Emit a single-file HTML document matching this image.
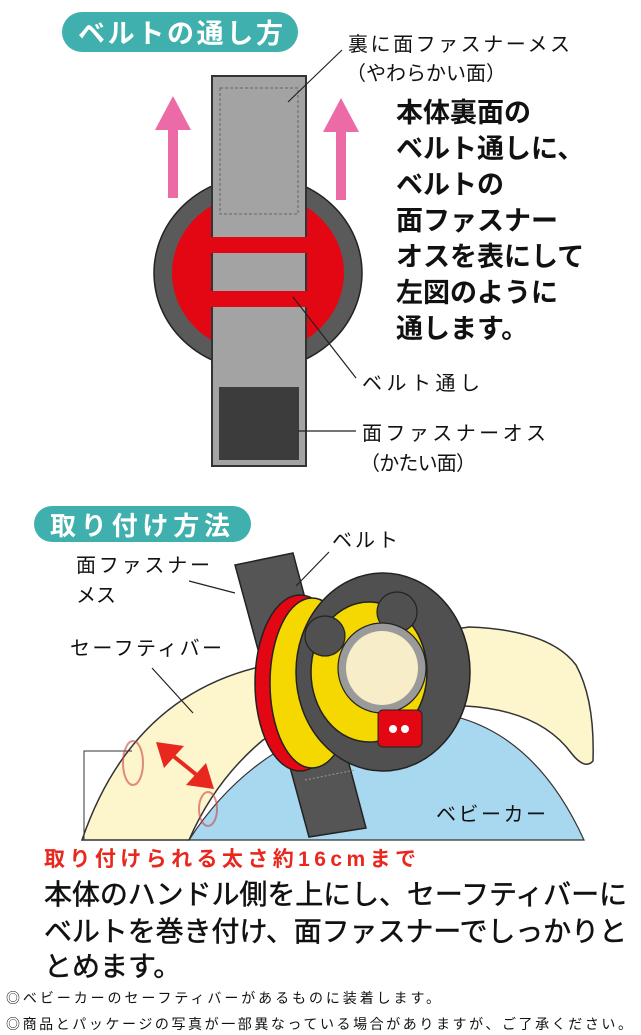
<!DOCTYPE html>
<html><head><meta charset="utf-8">
<style>
html,body{margin:0;padding:0;background:#fff;}
svg{display:block;}
text{font-family:"Liberation Sans","Noto Sans CJK JP",sans-serif;}
</style></head>
<body>
<svg width="641" height="1035" viewBox="0 0 641 1035" xmlns="http://www.w3.org/2000/svg">
<!-- TOP SECTION -->
<rect x="62" y="12" width="236" height="40" rx="20" fill="#3fb0ad"/>
<text x="78" y="43" font-size="27" font-weight="bold" fill="#fff" textLength="205">ベルトの通し方</text>

<ellipse cx="258" cy="273" rx="104" ry="97" fill="#5a5a5a" stroke="#222" stroke-width="1.5"/>
<ellipse cx="258" cy="273" rx="86" ry="80" fill="#e30613"/>
<rect x="168" y="128" width="10" height="70" fill="#ec6aa6"/>
<polygon points="155,130 191,130 173,96" fill="#ec6aa6"/>
<rect x="336" y="130" width="10" height="70" fill="#ec6aa6"/>
<polygon points="323,132 359,132 341,98" fill="#ec6aa6"/>
<rect x="212" y="76" width="94" height="390" fill="#a3a3a3" stroke="#333" stroke-width="2"/>
<rect x="220" y="88" width="78" height="126" fill="none" stroke="#666" stroke-width="1" stroke-dasharray="3,2"/>
<rect x="219" y="387" width="80" height="73" fill="#3c3c3c"/>
<rect x="206" y="237" width="104" height="16" fill="#e30613"/>
<rect x="206" y="291" width="104" height="16" fill="#e30613"/>
<line x1="342" y1="50" x2="288" y2="102" stroke="#222" stroke-width="1.2"/>
<line x1="293" y1="297" x2="356" y2="378" stroke="#222" stroke-width="1.2"/>
<line x1="298" y1="431" x2="356" y2="431" stroke="#222" stroke-width="1.2"/>
<text x="348" y="51" font-size="20" fill="#111" textLength="222">裏に面ファスナーメス</text>
<text x="346" y="80" font-size="20" fill="#111" textLength="160">（やわらかい面）</text>
<text x="362" y="390" font-size="20" fill="#111" textLength="118">ベルト通し</text>
<text x="362" y="440" font-size="20" fill="#111" textLength="184">面ファスナーオス</text>
<text x="360" y="470" font-size="20" fill="#111" textLength="116">（かたい面）</text>
<g font-size="27" font-weight="bold" fill="#111">
<text x="396" y="122">本体裏面の</text>
<text x="396" y="158">ベルト通しに、</text>
<text x="396" y="194">ベルトの</text>
<text x="396" y="230">面ファスナー</text>
<text x="396" y="266">オスを表にして</text>
<text x="396" y="302">左図のように</text>
<text x="396" y="338">通します。</text>
</g>

<!-- BOTTOM SECTION -->
<rect x="34" y="506" width="217" height="36" rx="18" fill="#3fb0ad"/>
<text x="50" y="535" font-size="26" font-weight="bold" fill="#fff" textLength="180">取り付け方法</text>

<path d="M189,840 Q260,730 390,712 Q520,700 584,840 Z" fill="#a8d8ef" stroke="#333" stroke-width="1.2"/>
<path d="M82,840 Q130,700 255,668 Q380,640 469,627 Q550,630 576,665 Q595,700 593,761 Q585,770 572,754 Q540,710 465,706 Q330,700 263,740 Q215,780 189,840 Z" fill="#fdf5cc" stroke="#333" stroke-width="1.5"/>
<path d="M84,840 L84,751 L132,751" fill="none" stroke="#333" stroke-width="1"/>
<!-- red measure arrows (bowtie) -->
<polygon points="156,742 184,746 164,768" fill="#e8281e"/>
<line x1="172" y1="755" x2="198" y2="776" stroke="#e8281e" stroke-width="4"/>
<polygon points="214,789 186,785 206,763" fill="#e8281e"/>
<ellipse cx="133" cy="763" rx="10" ry="22" fill="none" stroke="#c44" stroke-width="2" opacity="0.6"/>
<ellipse cx="208" cy="809" rx="9" ry="17" fill="none" stroke="#c44" stroke-width="2" opacity="0.6"/>
<polygon points="235,565 293,553 366,828 309,837" fill="#555" stroke="#222" stroke-width="1.5"/>
<line x1="305" y1="780" x2="355" y2="770" stroke="#999" stroke-width="1" stroke-dasharray="2,2"/>
<ellipse cx="300" cy="683" rx="45" ry="88" fill="#e30613" stroke="#222" stroke-width="1.5"/>
<ellipse cx="312" cy="683" rx="42" ry="85" fill="#f5d800" stroke="#222" stroke-width="1.5"/>
<ellipse cx="383" cy="672" rx="87" ry="99" fill="#505050" stroke="#222" stroke-width="1.5"/>
<ellipse cx="369" cy="672" rx="58" ry="70" fill="#f5d800" stroke="#222" stroke-width="1.5"/>
<circle cx="325" cy="636" r="20" fill="#505050" stroke="#222" stroke-width="1.2"/>
<circle cx="397" cy="612" r="20" fill="#505050" stroke="#222" stroke-width="1.2"/>
<ellipse cx="382" cy="668" rx="44" ry="45" fill="#9a9a9a" stroke="#222" stroke-width="1.2"/>
<ellipse cx="382" cy="668" rx="36" ry="37" fill="#f7edc8"/>
<rect x="378" y="710" width="44" height="37" rx="5" fill="#e30613" stroke="#222" stroke-width="1"/>
<circle cx="393" cy="729" r="4" fill="#fff"/><circle cx="405" cy="729" r="4" fill="#fff"/>
<line x1="329" y1="552" x2="296" y2="586" stroke="#222" stroke-width="1.2"/>
<line x1="189" y1="581" x2="235" y2="593" stroke="#222" stroke-width="1.2"/>
<line x1="152" y1="668" x2="193" y2="713" stroke="#222" stroke-width="1.2"/>
<text x="332" y="547" font-size="20" fill="#111" textLength="66">ベルト</text>
<text x="76" y="572" font-size="20" fill="#111" textLength="134">面ファスナー</text>
<text x="76" y="602" font-size="20" fill="#111">メス</text>
<text x="70" y="655" font-size="20" fill="#111" textLength="152">セーフティバー</text>
<text x="436" y="821" font-size="20" fill="#111" textLength="110">ベビーカー</text>

<text x="44" y="866" font-size="21" font-weight="bold" fill="#e8281e" textLength="372">取り付けられる太さ約16cmまで</text>
<g font-size="28" fill="#111" stroke="#111" stroke-width="0.5">
<text x="44" y="904" textLength="583">本体のハンドル側を上にし、セーフティバーに</text>
<text x="44" y="941" textLength="583">ベルトを巻き付け、面ファスナーでしっかりと</text>
<text x="44" y="976">とめます。</text>
</g>
<text x="6" y="1003" font-size="14" fill="#111" textLength="434">◎ベビーカーのセーフティバーがあるものに装着します。</text>
<text x="6" y="1029" font-size="14" fill="#111" textLength="626">◎商品とパッケージの写真が一部異なっている場合がありますが、ご了承ください。</text>
</svg>
</body></html>
